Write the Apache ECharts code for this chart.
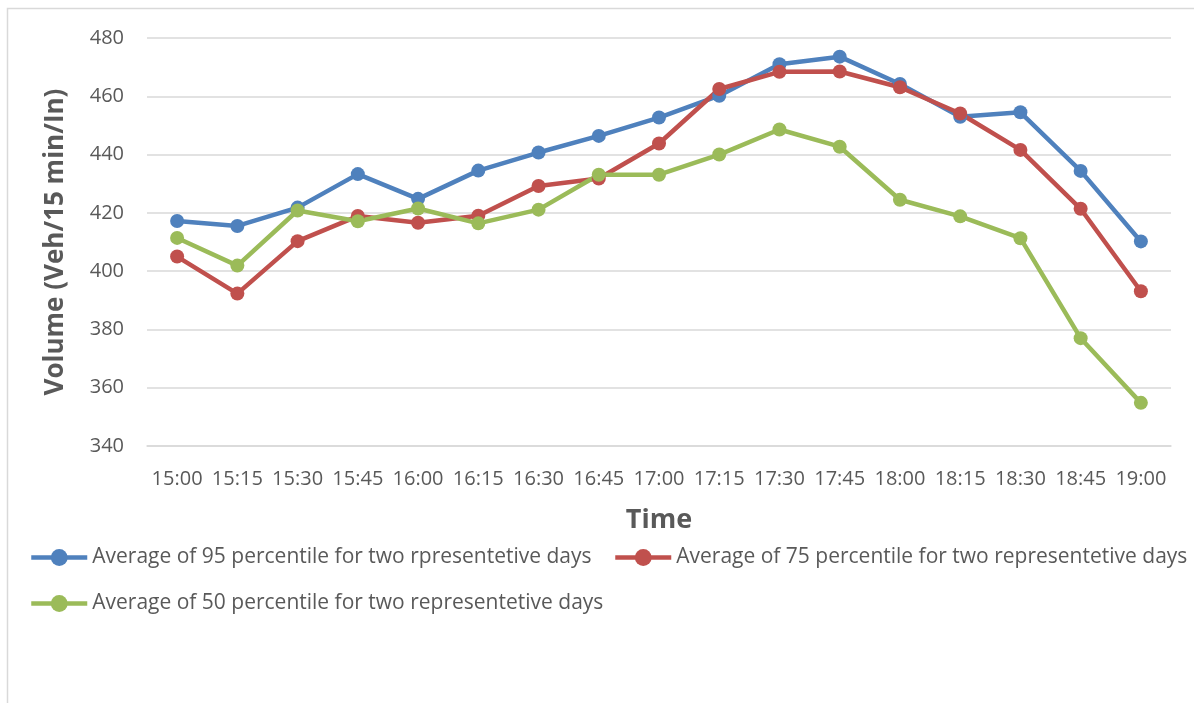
<!DOCTYPE html>
<html lang="en">
<head>
    <meta charset="UTF-8">
    <title>Volume by time</title>
    <script src="https://cdn.jsdelivr.net/npm/echarts@6/dist/echarts.min.js"></script>
    <style>
        * { margin: 0; padding: 0; box-sizing: border-box; }
        body { background: #ffffff; }
        #chart { width: 1194px; height: 703px; }
    </style>
</head>
<body>
    <div id="chart"></div>
    <script type="text/javascript">
        // time slots (x axis)
        const times = ['15:00', '15:15', '15:30', '15:45', '16:00', '16:15', '16:30', '16:45', '17:00',
                       '17:15', '17:30', '17:45', '18:00', '18:15', '18:30', '18:45', '19:00'];

        // y axis ticks
        const yMin = 340, yMax = 480, yStep = 20;

        // series values
        const p95 = [417.2, 415.5, 421.8, 433.3, 424.8, 434.5, 440.7, 446.4, 452.7, 460.2, 471.0, 473.6, 464.2, 453.0, 454.5, 434.4, 410.2];
        const p75 = [405.0, 392.3, 410.3, 418.9, 416.6, 419.0, 429.2, 431.8, 443.8, 462.5, 468.4, 468.5, 463.1, 454.1, 441.6, 421.4, 393.1];
        const p50 = [411.4, 401.9, 420.8, 417.1, 421.5, 416.4, 421.1, 433.1, 433.1, 440.0, 448.6, 442.7, 424.5, 418.8, 411.3, 377.0, 354.8];

        const names = [
            'Average of 95 percentile for two rpresentetive days',
            'Average of 75 percentile for two representetive days',
            'Average of 50 percentile for two representetive days'
        ];
        const colors = ['#4F81BD', '#C0504D', '#9BBB59'];

        const textColor = '#595959';
        const gridColor = '#D9D9D9';
        const font = '"Open Sans", "Liberation Sans", sans-serif';

        function makeSeries(name, values, color) {
            return {
                name: name,
                type: 'line',
                data: values,
                symbol: 'circle',
                symbolSize: 14,
                showSymbol: true,
                color: color,
                lineStyle: { width: 4.5, color: color },
                itemStyle: { color: color },
                emphasis: { disabled: true },
                animation: false
            };
        }

        // one legend per item so each sits where the reference puts it
        function makeLegend(name, left, top) {
            return {
                data: [name],
                left: left,
                top: top,
                padding: 0,
                orient: 'horizontal',
                itemWidth: 56,
                itemHeight: 21,
                lineStyle: { width: 4.5 },
                textStyle: { color: textColor, fontFamily: font, fontSize: 21, lineHeight: 21 }
            };
        }

        const chart = echarts.init(document.getElementById('chart'));

        chart.setOption({
            backgroundColor: '#ffffff',
            animation: false,
            graphic: [{
                type: 'rect',
                shape: { x: 7.5, y: 8.5, width: 1200, height: 720 },
                style: { fill: 'none', stroke: gridColor, lineWidth: 1.5 },
                silent: true
            }],
            grid: { left: 147, right: 23, top: 38, bottom: 257 },
            legend: [
                makeLegend(names[0], 29, 547),
                makeLegend(names[1], 613, 547),
                makeLegend(names[2], 29, 593)
            ],
            xAxis: {
                type: 'category',
                data: times,
                boundaryGap: true,
                name: 'Time',
                nameLocation: 'middle',
                nameGap: 61,
                nameTextStyle: { color: textColor, fontFamily: font, fontSize: 27, fontWeight: 'bold' },
                axisLine: { show: true, lineStyle: { color: gridColor, width: 1.5 } },
                axisTick: { show: false },
                axisLabel: { color: textColor, fontFamily: font, fontSize: 20, margin: 23, interval: 0 }
            },
            yAxis: {
                type: 'value',
                min: yMin,
                max: yMax,
                interval: yStep,
                name: 'Volume (Veh/15 min/In)',
                nameLocation: 'middle',
                nameGap: 78,
                nameTextStyle: { color: textColor, fontFamily: font, fontSize: 26, fontWeight: 'bold' },
                axisLine: { show: false },
                axisTick: { show: false },
                axisLabel: { color: textColor, fontFamily: font, fontSize: 20, margin: 23 },
                splitLine: { show: true, lineStyle: { color: gridColor, width: 1.5 } }
            },
            series: [
                makeSeries(names[0], p95, colors[0]),
                makeSeries(names[1], p75, colors[1]),
                makeSeries(names[2], p50, colors[2])
            ]
        });

        window.addEventListener('resize', function () {
            chart.resize();
        });
    </script>
</body>
</html>
